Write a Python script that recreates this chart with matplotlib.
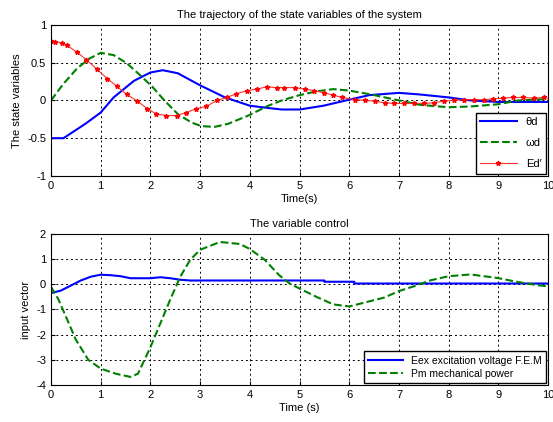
import numpy as np
import matplotlib
matplotlib.use('Agg')
import matplotlib.pyplot as plt

plt.rcParams['font.family'] = ['Liberation Sans', 'DejaVu Sans']
plt.rcParams['font.size'] = 8
plt.rcParams['axes.unicode_minus'] = False

# ---- top panel data ----
t_theta = [0, 0.25, 0.69, 1.0, 1.26, 1.67, 2.0, 2.25, 2.55, 3.0, 3.5, 4.0, 4.37,
           4.64, 5.0, 5.48, 6.0, 6.4, 7.0, 7.4, 8.0, 8.44, 9.0, 10.0]
theta_d = [-0.5, -0.5, -0.31, -0.16, 0.04, 0.26, 0.37, 0.4, 0.36, 0.2, 0.04, -0.07, -0.1,
           -0.12, -0.12, -0.07, 0.01, 0.07, 0.1, 0.08, 0.04, 0.0, -0.02, -0.02]

t_omega = [0, 0.25, 0.52, 0.76, 1.0, 1.26, 1.53, 1.8, 2.04, 2.28, 2.55, 2.82, 3.02,
           3.29, 3.56, 3.97, 4.37, 4.64, 5.0, 5.34, 5.68, 6.0, 6.43, 7.0, 7.44, 8.0,
           8.44, 9.0, 9.4, 10.0]
omega_d = [0, 0.22, 0.42, 0.55, 0.63, 0.6, 0.49, 0.33, 0.18, 0.0, -0.18, -0.29, -0.34,
           -0.35, -0.31, -0.2, -0.07, 0.0, 0.07, 0.12, 0.15, 0.13, 0.08, 0.0, -0.06, -0.09,
           -0.08, -0.05, 0.0, 0.02]

t_ed = [0, 0.09, 0.22, 0.32, 0.52, 0.71, 0.93, 1.13, 1.32, 1.52, 1.74, 1.94, 2.12, 2.32,
        2.53, 2.72, 2.92, 3.12, 3.34, 3.54, 3.73, 3.95, 4.14, 4.34, 4.54, 4.69, 4.9, 5.1,
        5.3, 5.5, 5.68, 5.85, 6.12, 6.32, 6.51, 6.71, 6.9, 7.1, 7.3, 7.51, 7.7, 7.9, 8.1,
        8.3, 8.5, 8.7, 8.9, 9.1, 9.3, 9.5, 9.71, 9.92]
ed_p = [0.79, 0.78, 0.76, 0.73, 0.64, 0.54, 0.41, 0.29, 0.19, 0.08, -0.01, -0.11, -0.18,
        -0.2, -0.2, -0.16, -0.11, -0.08, 0.0, 0.04, 0.09, 0.13, 0.15, 0.18, 0.17, 0.17,
        0.17, 0.15, 0.13, 0.1, 0.07, 0.04, 0.01, 0.0, -0.01, -0.03, -0.04, -0.04, -0.04,
        -0.04, -0.03, -0.01, 0.0, 0.01, 0.01, 0.01, 0.02, 0.03, 0.04, 0.04, 0.03, 0.04]

# ---- bottom panel data ----
t_eex = [0, 0.2, 0.4, 0.6, 0.8, 1.0, 1.2, 1.4, 1.6, 2.0, 2.2, 2.4, 2.6, 2.8, 5.5, 5.5,
         6.1, 6.1, 10.0]
eex = [-0.35, -0.25, -0.05, 0.15, 0.3, 0.38, 0.36, 0.32, 0.24, 0.24, 0.28, 0.24, 0.18,
       0.15, 0.15, 0.1, 0.1, 0.03, 0.03]

t_pm = [0, 0.15, 0.5, 0.75, 1.0, 1.3, 1.6, 1.75, 2.0, 2.2, 2.4, 2.6, 2.8, 3.0, 3.4, 3.8,
        4.0, 4.3, 4.59, 4.8, 5.0, 5.34, 5.68, 6.0, 6.36, 6.7, 7.0, 7.3, 7.64, 8.0, 8.44,
        8.98, 9.39, 9.8, 10.0]
pm = [-0.1, -0.6, -2.2, -3.0, -3.35, -3.55, -3.68, -3.55, -2.5, -1.55, -0.6, 0.3, 0.97,
      1.37, 1.68, 1.6, 1.4, 0.97, 0.36, 0.03, -0.17, -0.5, -0.8, -0.88, -0.7, -0.53,
      -0.27, -0.08, 0.16, 0.32, 0.39, 0.25, 0.09, -0.04, -0.08]

fig = plt.figure(figsize=(5.53, 4.22), dpi=100)
ax1 = fig.add_axes([0.0922, 0.583, 0.899, 0.358])
ax2 = fig.add_axes([0.0922, 0.0877, 0.899, 0.358])

ax1.plot(t_theta, theta_d, color='#0000ff', lw=1.5, label='θd')
ax1.plot(t_omega, omega_d, color='#008000', lw=1.5, ls='--', label='ωd')
ax1.plot(t_ed, ed_p, color='#ff3030', lw=0.8, marker='*', ms=3.5,
         mfc='#ff0000', mec='#ff0000', label='Ed′')
ax1.set_xlim(0, 10)
ax1.set_ylim(-1, 1)
ax1.set_yticks([-1, -0.5, 0, 0.5, 1])
ax1.set_yticklabels(['-1', '-0.5', '0', '0.5', '1'])
ax1.set_title('The trajectory of the state variables of the system', fontsize=8, pad=5)
ax1.set_xlabel('Time(s)', labelpad=2)
ax1.set_ylabel('The state variables')
ax1.legend(loc='lower right', fancybox=False, edgecolor='black', framealpha=1,
           handlelength=3.3, labelspacing=1.0, fontsize=8, borderaxespad=0.2)

ax2.plot(t_eex, eex, color='#0000ff', lw=1.5, label='Eex excitation voltage F.E.M')
ax2.plot(t_pm, pm, color='#008000', lw=1.5, ls='--', label='Pm mechanical power')
ax2.set_xlim(0, 10)
ax2.set_ylim(-4, 2)
ax2.set_title('The variable control', fontsize=8, pad=5)
ax2.set_xlabel('Time (s)', labelpad=2)
ax2.set_ylabel('input vector')
ax2.legend(loc='lower right', fancybox=False, edgecolor='black', framealpha=1,
           handlelength=3.3, labelspacing=0.3, fontsize=7.5, borderaxespad=0.2)

for ax in (ax1, ax2):
    ax.set_xticks(range(0, 11))
    ax.grid(True, color='black', ls=(0, (2, 3)), lw=0.7)
    ax.tick_params(direction='in', length=3, labelsize=8)
    for s in ax.spines.values():
        s.set_linewidth(0.8)

fig.savefig('out.png', dpi=100)
